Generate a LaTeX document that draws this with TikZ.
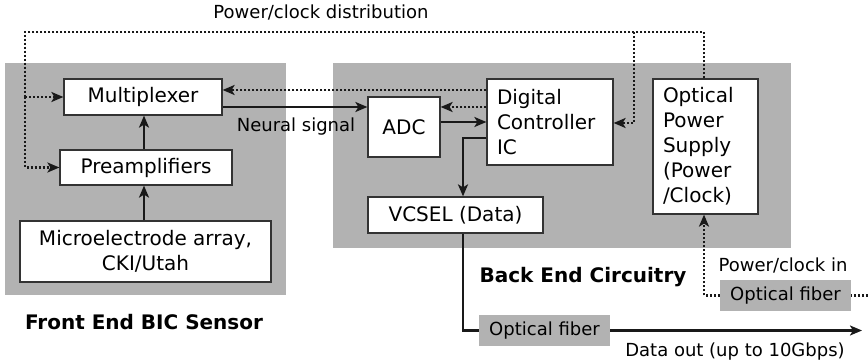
\documentclass[tikz,border=0pt]{standalone}
\usepackage{fontspec}
\setmainfont{DejaVu Sans}
\usetikzlibrary{arrows.meta}
\tikzset{
  region/.style={fill=gray!60, draw=none, inner sep=0pt},
  block/.style={draw=black!80, fill=white, line width=1.2pt, inner sep=0pt, text=black,
    font=\fontsize{20}{25}\selectfont},
  fiber/.style={fill=gray!60, inner sep=0pt, minimum width=131pt, minimum height=31pt,
    text=black, font=\fontsize{18}{22}\selectfont},
  sig/.style={line width=2.5pt, draw=black!90},
  pwr/.style={line width=2.8pt, draw=black!90, dash pattern=on 2pt off 2pt},
  lbl/.style={inner sep=0pt, text=black, font=\fontsize{18}{22}\selectfont},
  title/.style={inner sep=0pt, text=black, font=\fontsize{20}{24}\selectfont\bfseries},
}
\begin{document}
\begin{tikzpicture}[x=1pt, y=-1pt, >={Stealth[length=12pt, width=10pt, inset=3pt]}]
    \useasboundingbox (0,0) rectangle (868,363);

    % shaded areas
    \node[region, minimum width=281pt, minimum height=232pt] (front) at (145.5,179) {};
    \node[region, minimum width=458pt, minimum height=185pt] (back) at (562,155.5) {};

    % front end blocks
    \node[block, minimum width=158pt, minimum height=36pt] (mux) at (143,97) {Multiplexer};
    \node[block, minimum width=172pt, minimum height=35pt] (preamp) at (146,167.5) {Preamplifiers};
    \node[block, minimum width=251pt, minimum height=61pt, align=center] (mea) at (145.5,251.5)
        {Microelectrode array,\\CKI/Utah};

    % back end blocks
    \node[block, minimum width=72pt, minimum height=60pt] (adc) at (404,127) {ADC};
    \node[block, minimum width=126pt, minimum height=86pt, text width=106pt, align=left] (dc)
        at (550,122) {Digital\\Controller\\IC};
    \node[block, minimum width=105pt, minimum height=135pt, text width=85pt, align=left] (ops)
        at (705.5,146.5) {Optical\\Power\\Supply\\(Power\\/Clock)};
    \node[block, minimum width=175pt, minimum height=36pt] (vcsel) at (455.5,215) {VCSEL (Data)};

    % fibers
    \node[fiber] (fibin) at (785.5,295.5) {Optical fiber};
    \node[fiber] (fibout) at (544.5,330.5) {Optical fiber};

    % labels
    \node[lbl] (pcd) at (321,13) {Power/clock distribution};
    \node[lbl] (neural) at (296,127) {Neural signal};
    \node[lbl] (pcin) at (783,265) {Power/clock in};
    \node[lbl] (dout) at (735,352) {Data out (up to 10Gbps)};
    \node[title] (fronttitle) at (144,322) {Front End BIC Sensor};
    \node[title] (backtitle) at (583,277) {Back End Circuitry};

    \coordinate (tl) at (25,32);
    \coordinate (tr) at (704,32);
    \coordinate (tap) at (634,32);
    \coordinate (inend) at (868,295.5);
    \coordinate (outend) at (862,330.5);

    % power/clock distribution
    \draw[pwr] (ops.north -| tr) -- (tr) -- (tl) -- (tl |- mux.west);
    \draw[pwr,->] (tl |- mux.west) |- (preamp.west);
    \draw[pwr,->] (tl |- mux.west) -- (mux.west);
    \draw[pwr,->] (tap) |- ([yshift=-1pt]dc.east);
    \draw[pwr,->] ([yshift=32pt]dc.west) -- ([yshift=32pt]dc.west -| mux.east);
    \draw[pwr,->] ([yshift=15pt]dc.west) -- ([yshift=15pt]dc.west -| adc.east);
    \draw[pwr] (inend) -- (fibin.east);
    \draw[pwr,->] (fibin.west) -| (ops.south -| tr);

    % signal path
    \draw[sig,->] (mea.north -| 144,0) -- (preamp.south -| 144,0);
    \draw[sig,->] (preamp.north -| 144,0) -- (mux.south -| 144,0);
    \draw[sig,->] ([yshift=-10pt]mux.east) -- ([yshift=-10pt]mux.east -| adc.west);
    \draw[sig,->] (adc.east |- dc.west) -- (dc.west);
    \draw[sig,->] ([yshift=-16pt]dc.west) -| ([xshift=7.5pt]vcsel.north);
    \draw[sig] ([xshift=7.5pt]vcsel.south) |- (fibout.west);
    \draw[sig,->] (fibout.east) -- (outend);
\end{tikzpicture}
\end{document}
